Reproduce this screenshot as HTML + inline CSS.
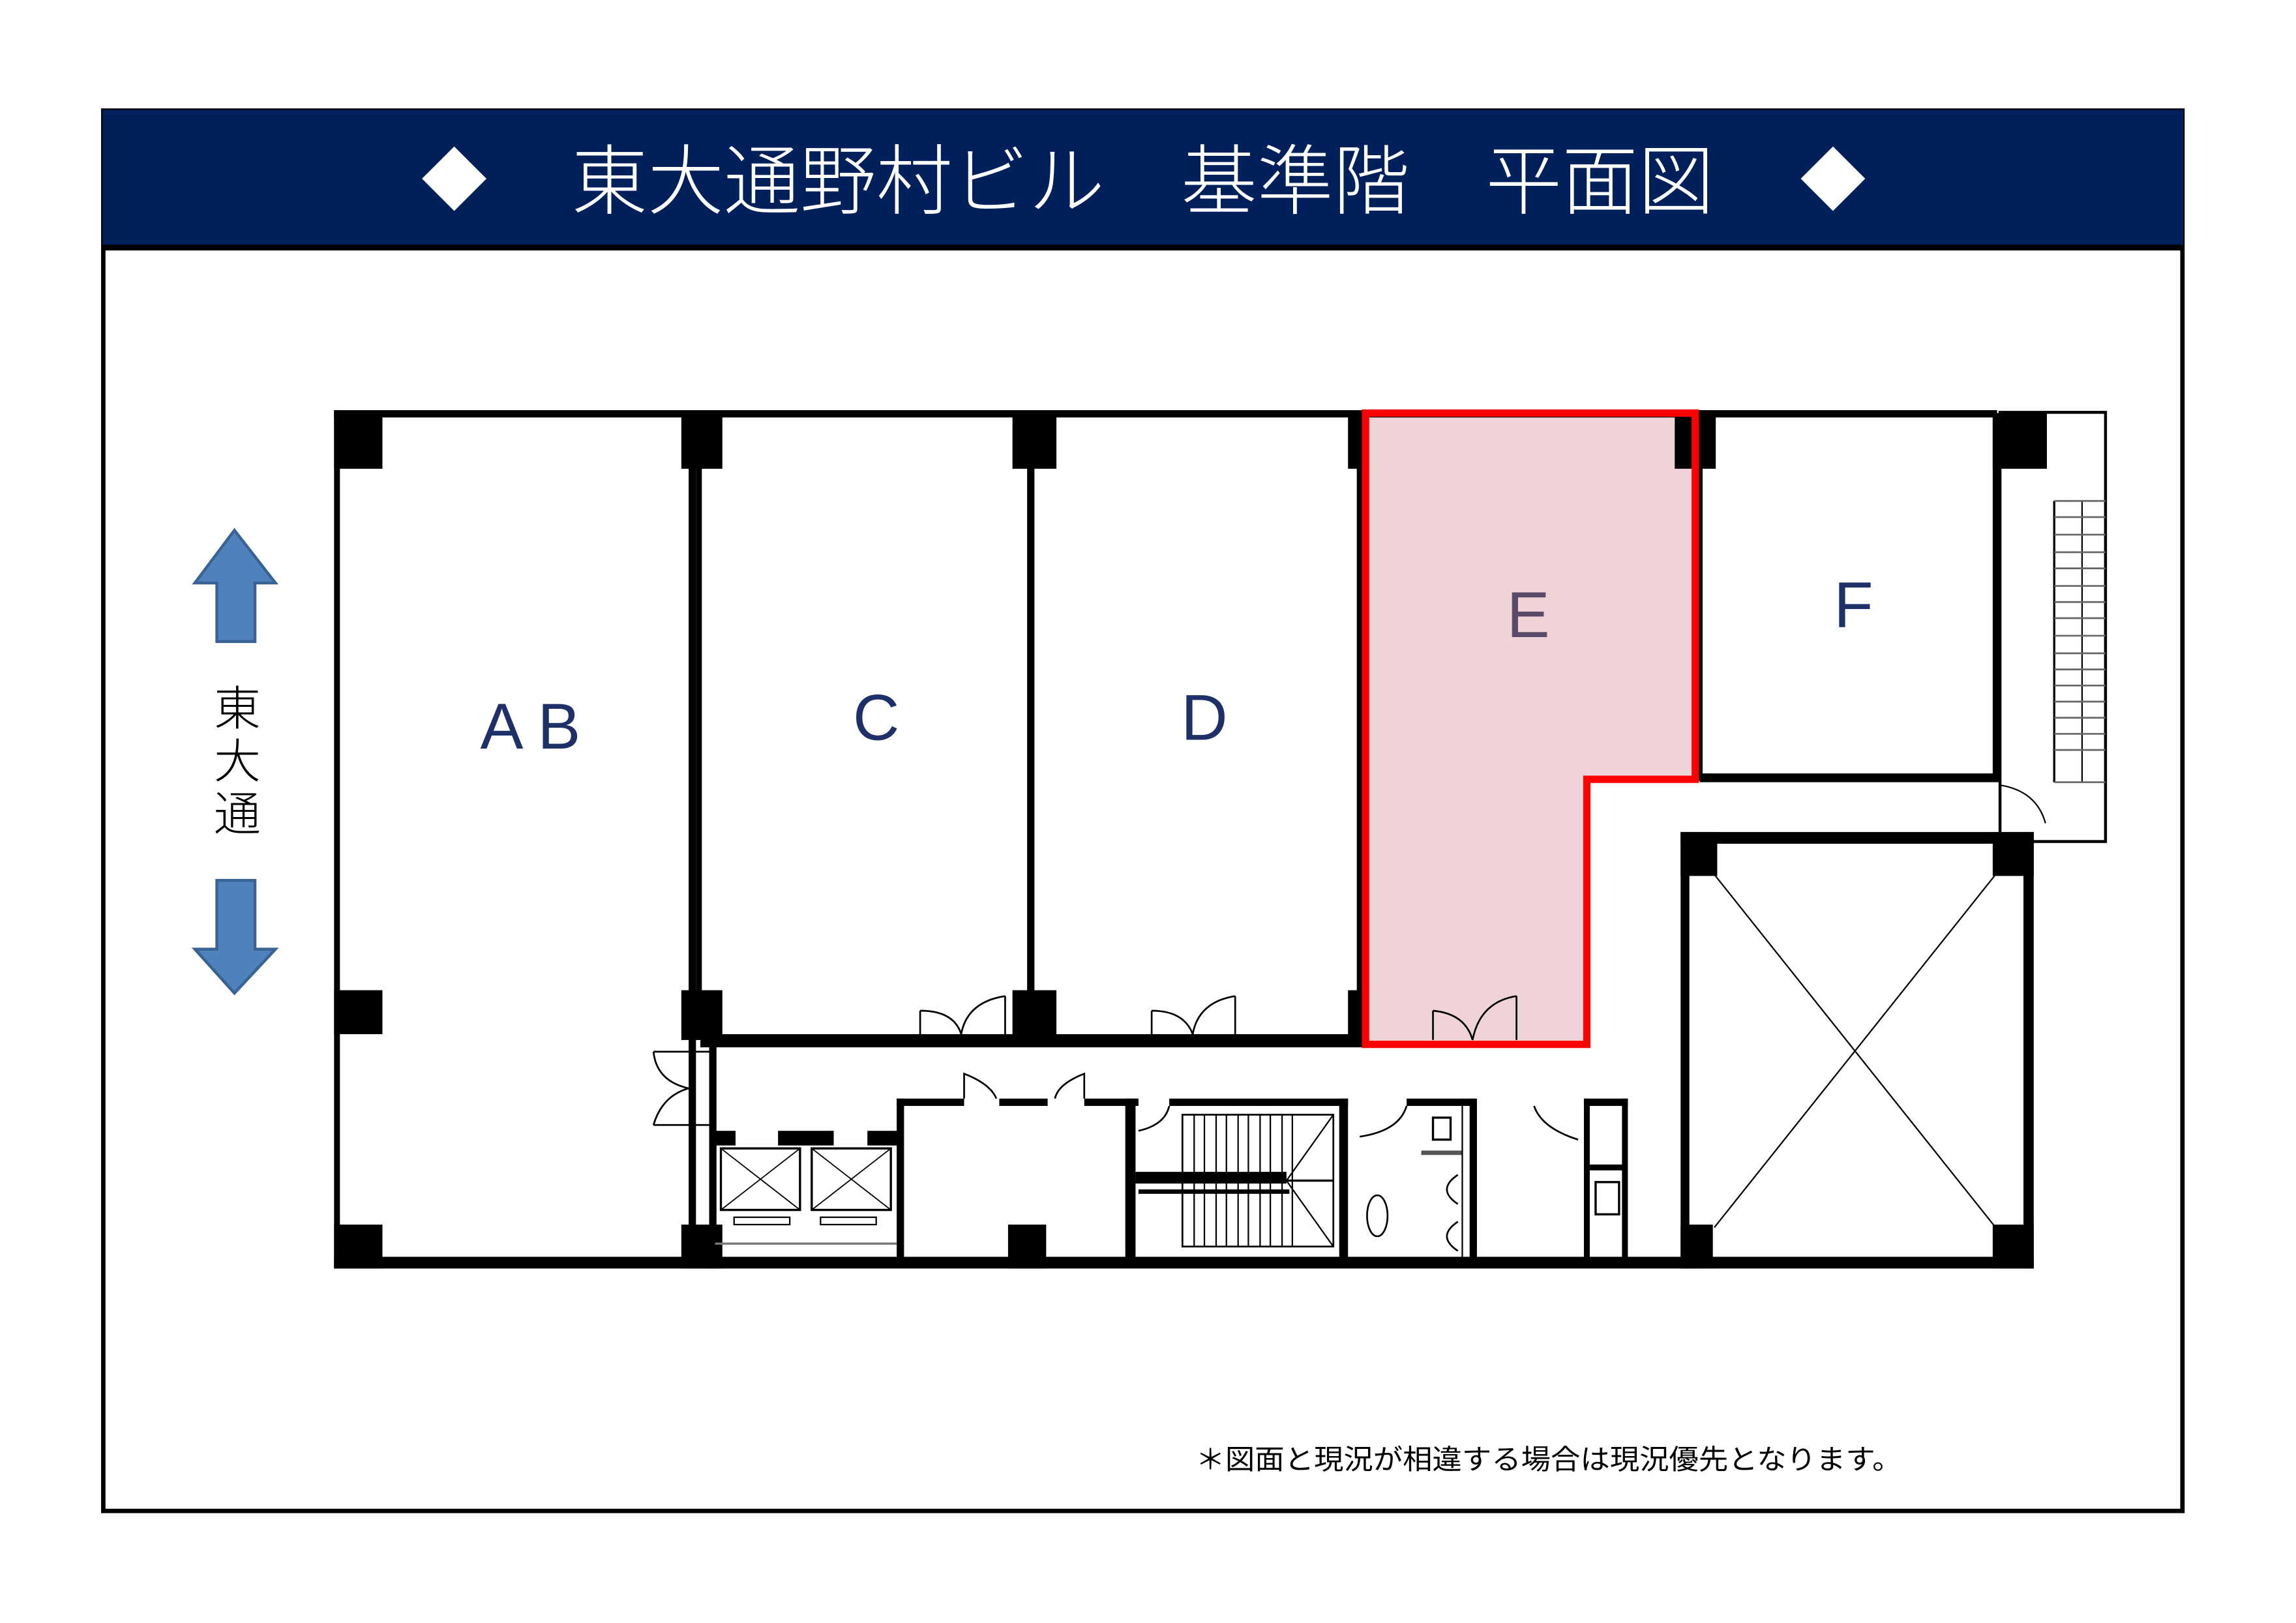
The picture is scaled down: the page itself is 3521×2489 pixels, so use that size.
<!DOCTYPE html>
<html><head><meta charset="utf-8"><style>
html,body{margin:0;padding:0;background:#fff;}
svg{display:block;}
text{font-family:"Liberation Sans","Noto Sans CJK JP",sans-serif;}
</style></head><body>
<svg width="3521" height="2489" viewBox="0 0 1567 1108" preserveAspectRatio="none" xmlns="http://www.w3.org/2000/svg">
<rect x="0" y="0" width="1567" height="1108" fill="#fff"/>
<rect x="70.5" y="75.5" width="1419" height="956" fill="none" stroke="#000" stroke-width="3"/>
<rect x="70" y="75" width="1420" height="93" fill="#00205b"/>
<rect x="70" y="167" width="1420" height="4" fill="#000"/>
<polygon points="310,100 332,122 310,144 288,122" fill="#fff"/>
<polygon points="1251,100 1273,122 1251,144 1229,122" fill="#fff"/>
<text x="780" y="142" font-size="52" fill="#fff" text-anchor="middle" font-family="Noto Sans CJK JP, sans-serif" font-weight="300">東大通野村ビル　基準階　平面図</text>
<polygon points="932,284 1157,284 1157,532 1083,532 1083,713 932,713" fill="#efd3d6"/>
<g fill="#000">
<rect x="228" y="280" width="1135" height="5"/>
<rect x="228" y="280" width="4" height="586"/>
<rect x="228" y="858" width="1160" height="8"/>
<rect x="228" y="282" width="33" height="38"/>
<rect x="465" y="282" width="28" height="38"/>
<rect x="691" y="282" width="30" height="38"/>
<rect x="920" y="282" width="14" height="38"/>
<rect x="1143" y="282" width="28" height="38"/>
<rect x="1360" y="282" width="37" height="38"/>
<rect x="470" y="285" width="5" height="580"/>
<rect x="475" y="285" width="4" height="425"/>
<rect x="701" y="285" width="5" height="425"/>
<rect x="926" y="285" width="4" height="425"/>
<rect x="1158" y="285" width="4" height="248"/>
<rect x="1360" y="285" width="5" height="248"/>
<rect x="1160" y="528" width="205" height="6"/>
<rect x="228" y="676" width="33" height="30"/>
<rect x="465" y="676" width="28" height="34"/>
<rect x="691" y="676" width="30" height="34"/>
<rect x="920" y="676" width="14" height="34"/>
<rect x="478" y="706" width="452" height="9"/>
<rect x="484" y="706" width="5" height="160"/>
<rect x="228" y="836" width="33" height="30"/>
<rect x="465" y="836" width="28" height="30"/>
<rect x="688" y="836" width="26" height="30"/>
<rect x="1147" y="836" width="22" height="30"/>
<rect x="1360" y="836" width="28" height="30"/>
<rect x="1147" y="568" width="241" height="8"/>
<rect x="1147" y="568" width="25" height="30"/>
<rect x="1360" y="568" width="28" height="30"/>
<rect x="1147" y="568" width="6" height="298"/>
<rect x="1381" y="568" width="7" height="298"/>
<rect x="488" y="772" width="14" height="10"/>
<rect x="531" y="772" width="38" height="10"/>
<rect x="592" y="772" width="22" height="10"/>
<rect x="612" y="750" width="5" height="110"/>
<rect x="612" y="750" width="46" height="5"/>
<rect x="682" y="750" width="33" height="5"/>
<rect x="740" y="750" width="37" height="5"/>
<rect x="768" y="750" width="7" height="110"/>
<rect x="775" y="800" width="103" height="8"/>
<rect x="777" y="812" width="103" height="3"/>
<rect x="798" y="750" width="122" height="5"/>
<rect x="914" y="750" width="6" height="110"/>
<rect x="960" y="750" width="46" height="5"/>
<rect x="1003" y="750" width="5" height="110"/>
<rect x="1081" y="750" width="30" height="5"/>
<rect x="1081" y="750" width="4" height="110"/>
<rect x="1107" y="750" width="4" height="110"/>
<rect x="1085" y="795" width="24" height="4"/>
</g>
<g fill="none" stroke="#000">
<rect x="1365" y="281.5" width="72" height="293" stroke-width="2"/>
<line x1="1402" y1="342" x2="1402" y2="534" stroke-width="1.5"/>
<line x1="1421" y1="342" x2="1421" y2="534" stroke-width="1"/>
<path stroke="#666" stroke-width="1.2" d="M1402,342H1437M1402,353H1437M1402,365H1437M1402,377H1437M1402,388H1437M1402,400H1437M1402,411H1437M1402,422H1437M1402,434H1437M1402,446H1437M1402,457H1437M1402,468H1437M1402,479H1437M1402,490H1437M1402,501H1437M1402,512H1437M1402,534H1437"/>
<path d="M1365,536 Q1390,540 1396,562" stroke-width="1"/>
<line x1="1170" y1="597" x2="1362" y2="838" stroke-width="1"/>
<line x1="1362" y1="597" x2="1170" y2="838" stroke-width="1"/>
<rect x="492" y="784" width="54" height="42" stroke-width="1.5"/>
<rect x="554" y="784" width="54" height="42" stroke-width="1.5"/>
<path d="M492,784 L546,826 M546,784 L492,826 M554,784 L608,826 M608,784 L554,826" stroke-width="0.8"/>
<rect x="501" y="831" width="38" height="5" stroke-width="1"/>
<rect x="560" y="831" width="38" height="5" stroke-width="1"/>
<line x1="488" y1="849" x2="612" y2="849" stroke="#777" stroke-width="1.5"/>
<rect x="807" y="761" width="103" height="90" stroke-width="1.2"/>
<path d="M815,761 V851 M822,761 V851 M830,761 V851 M837,761 V851 M845,761 V851 M852,761 V851 M860,761 V851 M867,761 V851 M875,761 V851 M882,761 V851" stroke-width="1"/>
<path d="M910,761 L878,806 L910,851" stroke-width="1"/>
<line x1="878" y1="806" x2="910" y2="806" stroke-width="1.5"/>
<path d="M628,706 V690 M628,690 Q651,690 656,706 M686,706 V680 M686,680 Q660,684 656,706" stroke-width="1.2"/>
<path d="M786,706 V690 M786,690 Q808,690 814,706 M843,706 V680 M843,680 Q818,684 814,706" stroke-width="1.2"/>
<path d="M978,710 V690 M978,690 Q1000,692 1005,710 M1035,710 V680 M1035,680 Q1010,684 1005,710" stroke-width="1.2"/>
<path d="M484,718 H446 M484,768 H446 M446,718 Q448,738 470,743 M446,768 Q452,748 470,743" stroke-width="1.2"/>
<path d="M658,750 V733 Q676,740 680,750 M740,750 V733 Q722,740 720,750" stroke-width="1.2"/>
<path d="M777,772 Q795,768 798,755" stroke-width="1.2"/>
<path d="M928,776 Q955,772 960,755" stroke-width="1.2"/>
<path d="M1047,755 Q1052,770 1077,778" stroke-width="1.2"/>
<rect x="978" y="763" width="12" height="15" stroke-width="1.5"/>
<line x1="970" y1="787" x2="998" y2="787" stroke="#555" stroke-width="3"/>
<ellipse cx="940" cy="830" rx="7" ry="14" stroke-width="1.2"/>
<path d="M995,802 Q980,812 995,822 M995,834 Q980,844 995,854" stroke-width="1.2"/>
<rect x="1089" y="807" width="16" height="22" stroke-width="1.5"/>
<line x1="998" y1="750" x2="998" y2="860" stroke-width="1"/>
</g>
<polygon points="932,282 1157,282 1157,532 1083,532 1083,713 932,713" fill="none" stroke="#ff0000" stroke-width="5"/>
<g fill="#1f3068" font-size="44">
<text x="362" y="511" text-anchor="middle">A B</text>
<text x="598" y="505" text-anchor="middle">C</text>
<text x="822" y="505" text-anchor="middle">D</text>
<text x="1043" y="435" text-anchor="middle" fill="#5a4a6a">E</text>
<text x="1265" y="428" text-anchor="middle">F</text>
</g>
<polygon points="160,362 188,398 174,398 174,438 148,438 148,398 133,398" fill="#4f81bd" stroke="#3a6395" stroke-width="2"/>
<polygon points="148,601 174,601 174,648 188,648 160,678 133,648 148,648" fill="#4f81bd" stroke="#3a6395" stroke-width="2"/>
<g font-size="32" fill="#000" text-anchor="middle" font-family="Noto Sans CJK JP, sans-serif" font-weight="300">
<text x="162" y="495">東</text>
<text x="162" y="531">大</text>
<text x="162" y="567">通</text>
</g>
<text x="816" y="1003" font-size="19" fill="#000" font-family="Noto Sans CJK JP, sans-serif" textLength="482" lengthAdjust="spacingAndGlyphs">＊図面と現況が相違する場合は現況優先となります。</text>
</svg>
</body></html>
